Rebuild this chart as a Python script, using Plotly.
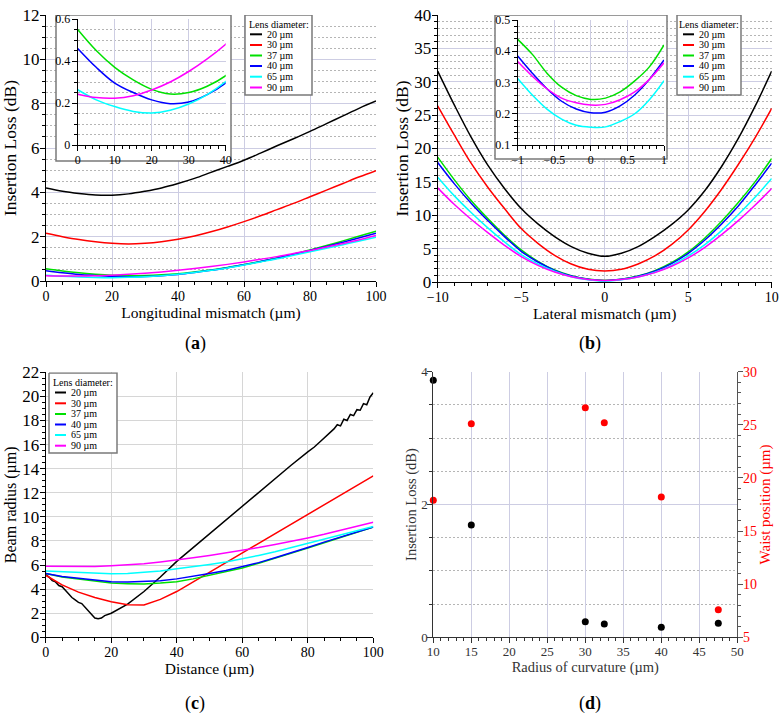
import plotly.graph_objects as go

W, H = 783, 718
FONT = "Liberation Serif, 'Times New Roman', serif"

labels = ["20 µm", "30 µm", "37 µm", "40 µm", "65 µm", "90 µm"]
colors = ["#000000", "#ff0000", "#00e000", "#0000ff", "#00ffff", "#ff00ff"]

# ---------- (a) insertion loss vs longitudinal mismatch ----------
a_x = [0, 5, 10, 15, 20, 25, 30, 35, 40, 45, 50, 55, 60, 65, 70, 75, 80, 85, 90, 95, 100]
a_20 = [4.2, 4.05, 3.95, 3.88, 3.87, 3.93, 4.05, 4.2, 4.4, 4.63, 4.9, 5.17, 5.45, 5.77, 6.1, 6.42, 6.75, 7.1, 7.45, 7.8, 8.12]
a_30 = [2.15, 2.0, 1.87, 1.77, 1.7, 1.67, 1.7, 1.77, 1.88, 2.03, 2.22, 2.44, 2.68, 2.94, 3.22, 3.5, 3.8, 4.1, 4.4, 4.7, 4.98]
a_37 = [0.55, 0.45, 0.37, 0.31, 0.265, 0.243, 0.25, 0.28, 0.33, 0.41, 0.5, 0.61, 0.74, 0.88, 1.04, 1.21, 1.4, 1.6, 1.81, 2.03, 2.25]
a_40 = [0.46, 0.37, 0.295, 0.25, 0.215, 0.197, 0.205, 0.24, 0.295, 0.38, 0.48, 0.6, 0.73, 0.88, 1.03, 1.2, 1.38, 1.56, 1.75, 1.95, 2.15]
a_65 = [0.263, 0.215, 0.183, 0.16, 0.152, 0.165, 0.195, 0.24, 0.302, 0.38, 0.48, 0.59, 0.72, 0.86, 1.0, 1.16, 1.32, 1.48, 1.64, 1.8, 1.97]
a_90 = [0.242, 0.226, 0.223, 0.235, 0.262, 0.3, 0.35, 0.41, 0.48, 0.56, 0.65, 0.75, 0.86, 0.98, 1.1, 1.24, 1.38, 1.53, 1.69, 1.86, 2.05]
a_series = [a_20, a_30, a_37, a_40, a_65, a_90]

# ---------- (b) insertion loss vs lateral mismatch ----------
b_x = [-10, -9, -8, -7, -6, -5, -4, -3, -2, -1, 0, 1, 2, 3, 4, 5, 6, 7, 8, 9, 10]
b_20 = [31.6, 26.5, 21.7, 17.5, 14.0, 11.0, 8.7, 6.8, 5.3, 4.3, 3.84, 4.3, 5.3, 6.8, 8.6, 10.8, 13.7, 17.3, 21.5, 26.3, 31.6]
b_30 = [26.4, 22.0, 17.8, 14.2, 11.0, 8.0, 5.8, 4.0, 2.7, 1.9, 1.65, 1.9, 2.7, 3.9, 5.6, 7.8, 10.6, 13.9, 17.6, 21.6, 26.0]
b_37 = [18.7, 15.3, 12.2, 9.5, 7.0, 4.8, 3.1, 1.8, 0.95, 0.45, 0.25, 0.42, 0.9, 1.7, 2.9, 4.5, 6.6, 9.1, 11.9, 15.0, 18.5]
b_40 = [17.9, 14.7, 11.8, 9.2, 6.8, 4.6, 3.0, 1.75, 0.9, 0.42, 0.2, 0.4, 0.85, 1.6, 2.75, 4.3, 6.3, 8.7, 11.4, 14.5, 17.8]
b_65 = [15.7, 12.9, 10.4, 8.1, 6.0, 4.1, 2.7, 1.6, 0.8, 0.35, 0.15, 0.33, 0.75, 1.45, 2.5, 3.9, 5.6, 7.7, 10.1, 12.7, 15.5]
b_90 = [14.1, 11.6, 9.4, 7.4, 5.5, 3.8, 2.5, 1.5, 0.8, 0.38, 0.22, 0.37, 0.75, 1.4, 2.35, 3.6, 5.2, 7.1, 9.2, 11.5, 14.0]
b_series = [b_20, b_30, b_37, b_40, b_65, b_90]

# inset of (b): finer sampling around zero
bi_x = [-1.0, -0.8, -0.6, -0.4, -0.2, 0.0, 0.2, 0.4, 0.6, 0.8, 1.0]
bi_37 = [0.438, 0.39, 0.33, 0.285, 0.258, 0.246, 0.25, 0.27, 0.305, 0.35, 0.42]
bi_40 = [0.385, 0.33, 0.28, 0.24, 0.215, 0.203, 0.205, 0.225, 0.26, 0.31, 0.372]
bi_65 = [0.313, 0.26, 0.215, 0.183, 0.163, 0.157, 0.158, 0.175, 0.2, 0.245, 0.306]
bi_90 = [0.367, 0.32, 0.28, 0.25, 0.235, 0.228, 0.23, 0.245, 0.27, 0.31, 0.363]
bi_series = [None, None, bi_37, bi_40, bi_65, bi_90]

# ---------- (c) beam radius vs distance ----------
c20_x = [0, 1, 2, 3, 4, 5, 6, 7, 8, 9, 10, 11, 12, 13, 14, 15, 16, 17, 18, 20, 25, 30, 35, 40, 45, 50, 55, 60,
         65, 70, 75, 80, 82, 84, 86, 88, 89, 90, 91, 92, 93, 94, 95, 96, 97, 98, 99, 100]
c20_y = [5.2, 5.0, 4.7, 4.6, 4.3, 4.2, 3.9, 3.6, 3.3, 3.1, 2.9, 2.8, 2.5, 2.2, 1.95, 1.6, 1.55, 1.6, 1.8, 2.0, 2.75,
         3.8, 5.0, 6.3, 7.45, 8.6, 9.75, 10.9, 12.05, 13.2, 14.3, 15.4, 15.8, 16.3, 16.8, 17.3, 17.65, 17.55, 18.1,
         18.0, 18.5, 18.4, 18.9, 18.85, 19.4, 19.3, 19.95, 20.3]
c_x = [0, 5, 10, 15, 20, 25, 30, 35, 40, 45, 50, 55, 60, 65, 70, 75, 80, 85, 90, 95, 100]
c_30 = [5.15, 4.35, 3.75, 3.3, 2.95, 2.7, 2.68, 3.15, 3.8, 4.6, 5.4, 6.2, 7.0, 7.8, 8.6, 9.4, 10.2, 11.0, 11.8, 12.6, 13.4]
c_37 = [5.3, 5.0, 4.85, 4.65, 4.5, 4.45, 4.43, 4.5, 4.62, 4.85, 5.15, 5.45, 5.75, 6.15, 6.55, 6.95, 7.4, 7.85, 8.3, 8.75, 9.15]
c_40 = [5.3, 5.05, 4.9, 4.75, 4.62, 4.6, 4.62, 4.7, 4.85, 5.05, 5.3, 5.55, 5.85, 6.2, 6.6, 7.0, 7.45, 7.9, 8.3, 8.75, 9.15]
c_65 = [5.5, 5.45, 5.4, 5.3, 5.27, 5.3, 5.37, 5.5, 5.7, 5.85, 6.05, 6.25, 6.5, 6.8, 7.1, 7.45, 7.8, 8.15, 8.5, 8.85, 9.2]
c_90 = [5.9, 5.87, 5.85, 5.87, 5.95, 6.0, 6.1, 6.25, 6.4, 6.6, 6.8, 7.0, 7.2, 7.45, 7.7, 7.95, 8.25, 8.55, 8.9, 9.2, 9.55]
c_series = [(c20_x, c20_y), (c_x, c_30), (c_x, c_37), (c_x, c_40), (c_x, c_65), (c_x, c_90)]

# ---------- (d) radius of curvature ----------
d_roc = [10, 15, 30, 32.5, 40, 47.5]
d_il = [3.87, 1.69, 0.236, 0.2, 0.15, 0.21]
d_waist = [17.9, 25.1, 26.6, 25.2, 18.2, 7.6]

# ---------- layout geometry (pixels) ----------
def px(x):
    return x / W

def py(y):
    return 1 - y / H

# panel plot areas: left, right, top, bottom pixels
PA = (46, 376, 15, 281)
PAi = (77.7, 225.7, 19, 145)
PB = (437.7, 771.7, 15, 282)
PBi = (517.7, 664, 20, 145)
PC = (45.7, 373.3, 372.3, 637.3)
PD = (433.3, 737.3, 371.7, 637.3)

RA = ([0, 100], [0, 12])
RAi = ([0, 40], [0, 0.6])
RB = ([-10, 10], [0, 40])
RBi = ([-1, 1], [0.1, 0.5])
RC = ([0, 100], [0, 22])
RD = ([10, 50], [0, 4])
RD2 = [5, 30]

def dom(p):
    return dict(x=[px(p[0]), px(p[1])], y=[py(p[3]), py(p[2])])

def to_data(p, r, x, y):
    fx = (x - p[0]) / (p[1] - p[0])
    fy = (p[3] - y) / (p[3] - p[2])
    return r[0][0] + fx * (r[0][1] - r[0][0]), r[1][0] + fy * (r[1][1] - r[1][0])

fig = go.Figure()

def white_frame(p, r, xa, ya, x0, y0, x1, y1):
    a = to_data(p, r, x0, y0)
    b = to_data(p, r, x1, y1)
    fig.add_trace(go.Scatter(x=[a[0], b[0], b[0], a[0], a[0]], y=[a[1], a[1], b[1], b[1], a[1]],
                             mode="lines", fill="toself", fillcolor="white",
                             line=dict(color="#7a7a7a", width=1.5), xaxis=xa, yaxis=ya,
                             showlegend=False, hoverinfo="skip"))

LW = 1.5
# (a)
white_frame(PA, RA, "x", "y", 56, 15, 231, 161)
white_frame(PA, RA, "x", "y", 245, 15, 312, 95)
for i in range(6):
    fig.add_trace(go.Scatter(x=a_x, y=a_series[i], mode="lines", line=dict(color=colors[i], width=LW, shape="spline"),
                             xaxis="x", yaxis="y", showlegend=False, name=labels[i]))
for i in range(6):
    fig.add_trace(go.Scatter(x=a_x, y=a_series[i], mode="lines", line=dict(color=colors[i], width=LW, shape="spline"),
                             xaxis="x2", yaxis="y2", showlegend=False, name=labels[i]))
# (b)
white_frame(PB, RB, "x3", "y3", 495, 15, 667, 159)
white_frame(PB, RB, "x3", "y3", 677, 15, 741, 95)
for i in range(6):
    fig.add_trace(go.Scatter(x=b_x, y=b_series[i], mode="lines", line=dict(color=colors[i], width=LW, shape="spline"),
                             xaxis="x3", yaxis="y3", showlegend=False, name=labels[i]))
for i in range(6):
    if bi_series[i] is None:
        continue
    fig.add_trace(go.Scatter(x=bi_x, y=bi_series[i], mode="lines", line=dict(color=colors[i], width=LW, shape="spline"),
                             xaxis="x4", yaxis="y4", showlegend=False, name=labels[i]))
# (c)
white_frame(PC, RC, "x5", "y5", 49, 373, 117, 453)
for i in range(6):
    cx, cy = c_series[i]
    fig.add_trace(go.Scatter(x=cx, y=cy, mode="lines", line=dict(color=colors[i], width=LW),
                             xaxis="x5", yaxis="y5", showlegend=False, name=labels[i]))
# (d)
fig.add_trace(go.Scatter(x=d_roc, y=d_il, mode="markers", marker=dict(color="black", size=7),
                         xaxis="x6", yaxis="y6", showlegend=False, cliponaxis=False, name="Insertion Loss"))
fig.add_trace(go.Scatter(x=d_roc, y=d_waist, mode="markers", marker=dict(color="#ff0000", size=7),
                         xaxis="x6", yaxis="y7", showlegend=False, cliponaxis=False, name="Waist position"))

GRID = "#cdcde3"
DOT = "#b5b5b5"

def axis(domain, rng, dtick, minor_dtick, tfs, anchor, title=None, tsize=17, showgrid=True,
         minorgrid=False, gridcolor=GRID, color="black", side=None, overlaying=None, standoff=-3):
    d = dict(domain=domain, range=rng, dtick=dtick, anchor=anchor, showline=True, linecolor=color, linewidth=1,
             ticks="outside", ticklen=5, tickcolor=color, tickfont=dict(family=FONT, size=tfs, color=color),
             ticklabelstandoff=standoff,
             showgrid=showgrid, gridcolor=gridcolor, gridwidth=1, zeroline=False, mirror=False,
             automargin=False,
             minor=dict(dtick=minor_dtick, ticks="outside", ticklen=3, tickcolor=color,
                        showgrid=minorgrid, gridcolor=DOT, griddash="2px,2px", gridwidth=1))
    if title:
        d["title"] = dict(text=title, font=dict(family=FONT, size=tsize, color=color), standoff=1)
    if side:
        d["side"] = side
    if overlaying:
        d["overlaying"] = overlaying
    return d

dA, dAi, dB, dBi, dC, dD = dom(PA), dom(PAi), dom(PB), dom(PBi), dom(PC), dom(PD)

layout = dict(
    width=W, height=H, margin=dict(l=0, r=0, t=0, b=0, autoexpand=False),
    paper_bgcolor="white", plot_bgcolor="white",
    font=dict(family=FONT, color="black"),
    xaxis=axis(dA["x"], RA[0], 20, 5, 14, "y", "Longitudinal mismatch (µm)", 15.5),
    yaxis=axis(dA["y"], RA[1], 2, 0.5, 17, "x", "Insertion Loss (dB)", 17.5, minorgrid=True),
    xaxis2=axis(dAi["x"], RAi[0], 10, 2, 12, "y2", standoff=-1),
    yaxis2=axis(dAi["y"], RAi[1], 0.2, 0.05, 12, "x2", minorgrid=True, standoff=-1),
    xaxis3=axis(dB["x"], RB[0], 5, 1, 14, "y3", "Lateral mismatch (µm)", 15.5),
    yaxis3=axis(dB["y"], RB[1], 5, 1, 17, "x3", "Insertion Loss (dB)", 17.5, minorgrid=True),
    xaxis4=axis(dBi["x"], RBi[0], 0.5, 0.1, 12, "y4", standoff=-1),
    yaxis4=axis(dBi["y"], RBi[1], 0.1, 0.02, 12, "x4", minorgrid=True, standoff=-1),
    xaxis5=axis(dC["x"], RC[0], 20, 5, 14, "y5", "Distance (µm)", 15.5, gridcolor="#d6d6d6"),
    yaxis5=axis(dC["y"], RC[1], 2, 0.5, 17, "x5", "Beam radius (µm)", 16, gridcolor="#d6d6d6"),
    xaxis6=axis(dD["x"], RD[0], 5, 1, 13, "y6", "Radius of curvature (µm)", 14.5, color="#333333"),
    yaxis6=axis(dD["y"], RD[1], 2, 0.5, 13, "x6", "Insertion Loss (dB)", 14.5, minorgrid=True, color="#333333"),
    yaxis7=axis(dD["y"], RD2, 5, 1, 14, "x6", "Waist position (µm)", 15, showgrid=False,
                color="#ff0000", side="right", overlaying="y6"),
)
layout["yaxis7"]["linecolor"] = "#555555"
layout["yaxis7"]["tickcolor"] = "#555555"
layout["yaxis7"]["minor"]["tickcolor"] = "#555555"
fig.update_layout(**layout)

shapes = []
annotations = []

def legend_entries(x_title, title_y, rows, sw0, sw1, tx):
    annotations.append(dict(xref="paper", yref="paper", x=px(x_title), y=py(title_y), text="Lens diameter:",
                            showarrow=False, xanchor="center", yanchor="middle",
                            font=dict(family=FONT, size=10, color="black")))
    for i, ry in enumerate(rows):
        shapes.append(dict(type="line", xref="paper", yref="paper", x0=px(sw0), y0=py(ry), x1=px(sw1), y1=py(ry),
                           line=dict(color=colors[i], width=2), layer="above"))
        annotations.append(dict(xref="paper", yref="paper", x=px(tx), y=py(ry), text=labels[i],
                                showarrow=False, xanchor="left", yanchor="middle",
                                font=dict(family=FONT, size=10, color="black")))

legend_entries(278.5, 24, [34.3, 45, 55.5, 66, 76.7, 87.5], 250, 262, 265)
legend_entries(709, 24, [34.3, 45, 55.5, 66, 76.7, 87.5], 683, 694, 697)
legend_entries(83, 382, [392.5, 403.3, 414, 424.5, 435, 445.7], 55, 66, 69)

for txt, x, y in [("a", 195, 343), ("b", 590, 343), ("c", 195, 703), ("d", 590, 703)]:
    annotations.append(dict(xref="paper", yref="paper", x=px(x), y=py(y), text="(<b>%s</b>)" % txt,
                            showarrow=False, xanchor="center", yanchor="middle",
                            font=dict(family=FONT, size=18, color="black")))

fig.update_layout(shapes=shapes, annotations=annotations)
fig.write_html("out.html")
